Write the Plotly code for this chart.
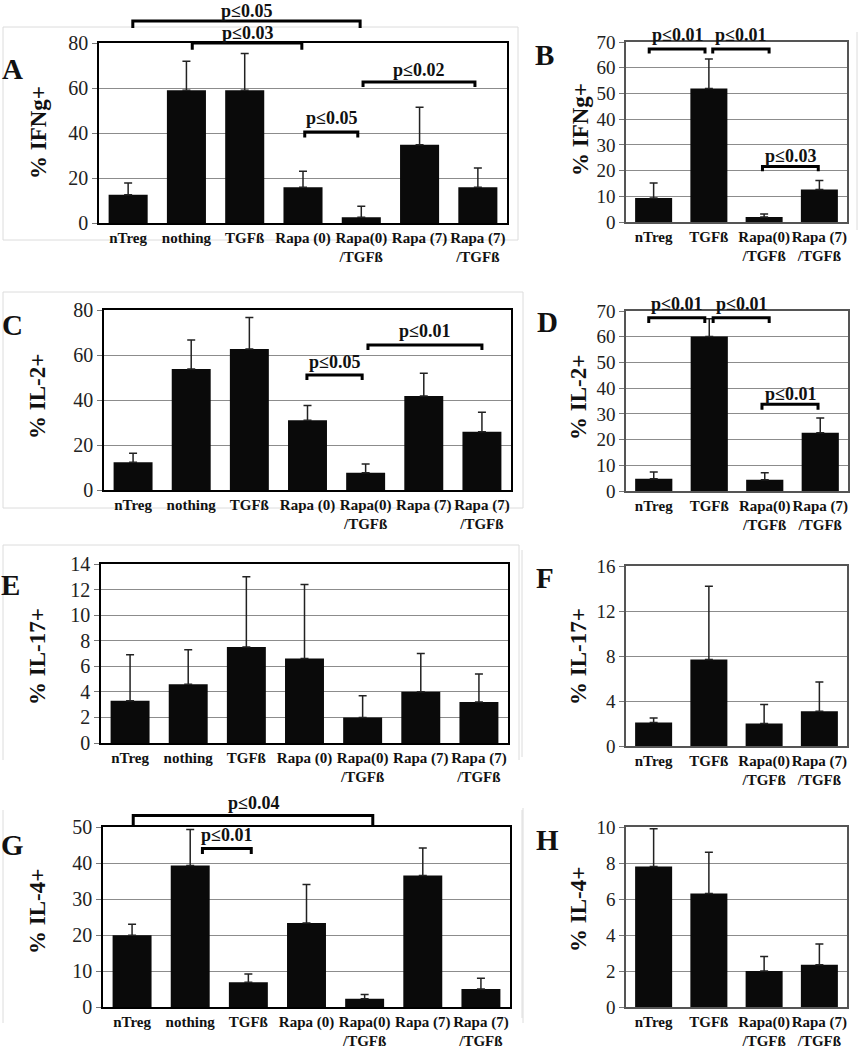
import plotly.graph_objects as go

W, H = 858, 1050

# ---------------- data ----------------
cats7 = ["nTreg", "nothing", "TGFß", "Rapa (0)", "Rapa(0)<br>/TGFß", "Rapa (7)", "Rapa (7)<br>/TGFß"]
cats4 = ["nTreg", "TGFß", "Rapa(0)<br>/TGFß", "Rapa (7)<br>/TGFß"]

ifng7 = [12.6, 59.0, 59.0, 15.9, 2.5, 34.8, 15.9]
ifng7_err = [5.2, 12.9, 16.3, 7.1, 4.9, 16.6, 8.5]
ifng4 = [9.3, 51.9, 1.9, 12.6]
ifng4_err = [5.9, 11.5, 1.2, 3.5]

il2_7 = [12.3, 53.8, 62.7, 31.0, 7.7, 41.8, 25.9]
il2_7_err = [4.0, 12.9, 14.0, 6.5, 3.9, 10.1, 8.6]
il2_4 = [4.8, 60.1, 4.4, 22.7]
il2_4_err = [2.6, 6.9, 2.7, 5.7]

il17_7 = [3.3, 4.6, 7.5, 6.6, 2.0, 4.0, 3.2]
il17_7_err = [3.6, 2.7, 5.5, 5.8, 1.7, 3.0, 2.2]
il17_4 = [2.1, 7.7, 2.0, 3.1]
il17_4_err = [0.4, 6.5, 1.7, 2.6]

il4_7 = [19.9, 39.3, 6.9, 23.3, 2.3, 36.5, 5.0]
il4_7_err = [3.1, 10.0, 2.3, 10.7, 1.2, 7.7, 3.0]
il4_4 = [7.8, 6.3, 2.0, 2.35]
il4_4_err = [2.1, 2.3, 0.8, 1.15]

y_titles = ["% IFNg+", "% IFNg+", "% IL-2+", "% IL-2+", "% IL-17+", "% IL-17+", "% IL-4+", "% IL-4+"]
letters = ["A", "B", "C", "D", "E", "F", "G", "H"]
y_max = [80, 70, 80, 70, 14, 16, 50, 10]
y_dtick = [20, 10, 20, 10, 2, 4, 10, 2]

# significance brackets: (x_start, x_end, y_line, y_tip, label, y_label)
brackets_A = [(0.08, 3.98, 89.8, 86.7, "p≤0.05", 94.3),
              (1.10, 2.98, 80.0, 77.0, "p≤0.03", 84.4),
              (4.03, 5.95, 62.7, 60.4, "p≤0.02", 68.0),
              (3.03, 3.94, 40.4, 38.0, "p≤0.05", 46.7)]
brackets_B = [(-0.08, 0.93, 67.3, 65.5, "p≤0.01", 72.9),
              (1.07, 2.09, 67.3, 65.5, "p≤0.01", 72.9),
              (1.97, 2.98, 21.6, 19.7, "p≤0.03", 25.5)]
brackets_C = [(2.99, 3.94, 51.1, 48.9, "p≤0.05", 57.0),
              (4.04, 6.00, 64.4, 62.2, "p≤0.01", 70.7)]
brackets_D = [(-0.09, 0.92, 67.4, 65.3, "p≤0.01", 72.9),
              (1.07, 2.08, 67.4, 65.3, "p≤0.01", 72.9),
              (1.95, 2.96, 33.7, 31.6, "p≤0.01", 37.9)]
brackets_G = [(0.02, 4.14, 53.2, 50.2, "p≤0.04", 56.7),
              (1.21, 2.05, 44.0, 42.5, "p≤0.01", 47.7)]

# ---------------- layout geometry (pixels) ----------------
boxes = [  # x0, x1, y_top, y_bottom of each plot area
    (99, 507, 43, 223), (626, 847, 42, 222),
    (104, 511, 310, 490), (626, 848, 311, 491),
    (101, 508, 564, 743), (626, 847, 566, 746),
    (103, 510, 827, 1007), (626, 847, 827, 1007),
]
ytitle_pos = [(38, 133), (580, 130), (38, 397), (578, 398), (37, 657), (578, 657), (37, 912), (578, 910)]
letter_pos = [(12, 69), (544, 55), (12, 325), (547, 322), (10, 585), (545, 578), (12, 845), (547, 840)]

panels = [
    (cats7, ifng7, ifng7_err, brackets_A), (cats4, ifng4, ifng4_err, brackets_B),
    (cats7, il2_7, il2_7_err, brackets_C), (cats4, il2_4, il2_4_err, brackets_D),
    (cats7, il17_7, il17_7_err, []), (cats4, il17_4, il17_4_err, []),
    (cats7, il4_7, il4_7_err, brackets_G), (cats4, il4_4, il4_4_err, []),
]

SERIF = "'Liberation Serif', 'Times New Roman', Times, serif"

fig = go.Figure()
shapes = []
annotations = []


def px(x):
    return x / W


def py(y):
    return 1 - y / H


def to_paper(i, xc, yv):
    x0, x1, yt, yb = boxes[i]
    n = len(panels[i][0])
    xp = x0 + (xc + 0.5) / n * (x1 - x0)
    yp = yb - yv / y_max[i] * (yb - yt)
    return px(xp), py(yp)


for i, (cats, vals, errs, brs) in enumerate(panels):
    k = "" if i == 0 else str(i + 1)
    x0, x1, yt, yb = boxes[i]
    left = i % 2 == 0
    fig.add_trace(go.Bar(
        x=list(range(len(cats))), y=vals,
        marker=dict(color="#0a0a0a", line=dict(width=0)),
        error_y=dict(type="data", array=errs, symmetric=False,
                     arrayminus=[0] * len(errs), color="#222222",
                     thickness=1.5, width=4),
        xaxis="x" + k, yaxis="y" + k, showlegend=False,
    ))
    frame_col = "#000000" if left else "#555555"
    fig.layout["xaxis" + k] = dict(
        domain=[px(x0), px(x1)], anchor="y" + k, automargin=False,
        range=[-0.5, len(cats) - 0.5],
        tickvals=list(range(len(cats))), ticktext=cats, tickangle=0,
        showline=True, linecolor=frame_col, linewidth=1.5, mirror=True,
        showgrid=False, ticks="", zeroline=False,
        tickfont=dict(family=SERIF, size=15, color="#111111", weight="bold"),
    )
    fig.layout["yaxis" + k] = dict(
        domain=[py(yb), py(yt)], anchor="x" + k, automargin=False,
        range=[0, y_max[i]], dtick=y_dtick[i], tick0=0,
        showline=True, linecolor=frame_col, linewidth=1.5, mirror=True,
        showgrid=True, gridcolor="#8c8c8c", gridwidth=1,
        ticks="outside", ticklen=5, tickcolor="#777777",
        zeroline=False,
        tickfont=dict(family=SERIF, size=20 if left else 19, color="#222222"),
    )
    # y title
    tx, ty = ytitle_pos[i]
    annotations.append(dict(x=px(tx), y=py(ty), xref="paper", yref="paper",
                            text=y_titles[i], showarrow=False, textangle=-90,
                            font=dict(family=SERIF, size=23, color="#111111", weight="bold"),
                            xanchor="center", yanchor="middle"))
    # panel letter
    lx, ly = letter_pos[i]
    annotations.append(dict(x=px(lx), y=py(ly), xref="paper", yref="paper",
                            text=letters[i], showarrow=False,
                            font=dict(family=SERIF, size=29, color="#111111", weight="bold"),
                            xanchor="center", yanchor="middle"))
    # significance brackets
    for (xa, xb, yl, ytip, lab, ylab) in brs:
        ax, ayl = to_paper(i, xa, yl)
        bx, _ = to_paper(i, xb, yl)
        _, aytip = to_paper(i, xa, ytip)
        shapes.append(dict(type="path", xref="paper", yref="paper",
                           path=f"M {ax},{aytip} L {ax},{ayl} L {bx},{ayl} L {bx},{aytip}",
                           line=dict(color="#000000", width=3)))
        mx, my = to_paper(i, (xa + xb) / 2, ylab)
        annotations.append(dict(x=mx, y=my, xref="paper", yref="paper", text=lab,
                                showarrow=False, xanchor="center", yanchor="middle",
                                font=dict(family=SERIF, size=18, color="#111111", weight="bold")))

# faint chart-area borders
border_lines = [
    (3, 27, 3, 240), (518, 27, 518, 240), (3, 240, 518, 240), (3, 27, 518, 27),
    (857, 32, 857, 230),
    (3, 292, 523, 292), (3, 292, 3, 508), (523, 292, 523, 508), (3, 508, 523, 508),
    (3, 545, 519, 545), (3, 545, 3, 760), (519, 545, 519, 760),
    (522, 550, 522, 757),
    (3, 810, 3, 1023), (522, 810, 522, 1018),
    (523, 808, 523, 1023),
]
for (ax, ay, bx, by) in border_lines:
    shapes.append(dict(type="line", xref="paper", yref="paper",
                       x0=px(ax), y0=py(ay), x1=px(bx), y1=py(by),
                       line=dict(color="#dcdcdc", width=1), layer="below"))

fig.update_layout(
    width=W, height=H, margin=dict(l=0, r=0, t=0, b=0),
    paper_bgcolor="white", plot_bgcolor="white",
    bargap=0.33, shapes=shapes, annotations=annotations,
    font=dict(family=SERIF),
)

fig.write_html("out.html", config={"displayModeBar": False},
               post_script="document.body.style.margin='0';document.body.style.padding='0';")
